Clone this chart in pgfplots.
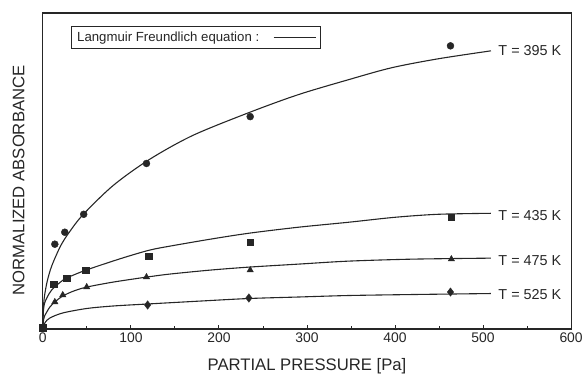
\documentclass[border=0pt]{standalone}
\usepackage{pgfplots}
\pgfplotsset{compat=1.18}
\usepackage{fontspec}
\setmainfont{Liberation Sans}
\definecolor{ink}{gray}{0.15}
\begin{document}
\begin{tikzpicture}
\begin{axis}[
  width=530bp, height=317bp, scale only axis,
  xmin=0, xmax=600, ymin=-1, ymax=316,
  xtick={0,100,...,600}, minor x tick num=1,
  xtick pos=bottom, ytick=\empty,
  tick align=inside,
  major tick length=4bp, minor tick length=2.5bp,
  axis line style={ink, line width=1.2bp},
  every tick/.style={ink, line width=0.9bp},
  /pgf/number format/assume math mode=true,
  xticklabel style={font=\fontsize{14}{16}\selectfont, text=ink},
  xlabel={PARTIAL PRESSURE [Pa]},
  ylabel={NORMALIZED ABSORBANCE},
  xlabel style={font=\fontsize{16.8}{18}\selectfont, text=ink, at={(axis description cs:0.5,-0.1167)}, anchor=center},
  ylabel style={font=\fontsize{16.8}{18}\selectfont, text=ink, at={(axis description cs:-0.046,0.47)}, anchor=center},
  legend plot pos=right,
  legend image code/.code={\draw[#1] (0bp,0bp) -- (42bp,0bp);},
  legend style={at={(axis description cs:0.0528,0.958)}, anchor=north west,
    draw=ink, line width=0.9bp, font=\fontsize{13.3}{15}\selectfont, text=ink,
    inner xsep=4bp, inner ysep=3.5bp,
    /tikz/every odd column/.append style={column sep=12bp}},
]
% fitted curves
\addplot[ink, line width=1.1bp, smooth, tension=0.5] coordinates {
 (0,0) (0.5,19) (1,25) (2,33) (5,47) (10,62) (20,82) (30,96) (46,114) (80,143) (121,169)
 (170,193) (234,216) (290,234) (347,249) (396,261) (449,270) (509,278)};
\addlegendentry{Langmuir Freundlich equation :}
\addplot[ink, line width=1.1bp, smooth, tension=0.5, forget plot] coordinates {
 (0,0) (0.5,15) (1,20) (2,25) (5,31) (10,38) (20,46) (27,50) (49,58) (90,70) (121,78)
 (144,82) (190,89) (234,95) (290,101) (347,106) (400,111) (449,114) (509,115)};
\addplot[ink, line width=1.1bp, smooth, tension=0.5, forget plot] coordinates {
 (0,0) (0.5,6) (1,9) (2,12) (4.5,16) (8,21) (13.6,26) (22.6,32) (35,37) (50,41) (80,46)
 (118,51) (144,54) (190,58) (234,61) (290,64) (347,67) (420,69) (509,70)};
\addplot[ink, line width=1.1bp, smooth, tension=0.5, forget plot] coordinates {
 (0,0) (1,3) (3,6) (8,10) (22.6,15) (50,19.5) (80,22) (119,24) (180,27)
 (234,29.5) (290,31) (347,32.5) (420,33.5) (509,34.5)};
% measured points
\addplot[only marks, mark=*, mark size=3.5bp, ink, forget plot] coordinates {
 (13.6,84) (24.9,96) (46.4,114) (117.7,165) (235.5,212) (463,283)};
\addplot[only marks, mark=square*, mark size=3.3bp, ink, forget plot] coordinates {
 (0,0) (12.5,44) (27.2,50) (48.7,58) (120,72) (235.5,86) (464,111)};
\addplot[only marks, mark=triangle*, mark size=3.7bp, ink, forget plot] coordinates {
 (13.6,26) (22.6,33) (49.8,41) (117.7,51) (235.5,58) (464,69)};
\addplot[only marks, mark=diamond*, mark size=4.2bp, ink, forget plot] coordinates {
 (119,23) (234,30) (463,36)};
% labels
\node[anchor=west, text=ink, font=\fontsize{14.5}{16}\selectfont, xshift=4bp] at (axis cs:509,278) {T = 395 K};
\node[anchor=west, text=ink, font=\fontsize{14.5}{16}\selectfont, xshift=4bp, yshift=-2bp] at (axis cs:509,115) {T = 435 K};
\node[anchor=west, text=ink, font=\fontsize{14.5}{16}\selectfont, xshift=4bp, yshift=-2bp] at (axis cs:509,70) {T = 475 K};
\node[anchor=west, text=ink, font=\fontsize{14.5}{16}\selectfont, xshift=4bp, yshift=-1bp] at (axis cs:509,34.5) {T = 525 K};
\end{axis}
\useasboundingbox ([xshift=-43bp,yshift=-45bp]current axis.south west) rectangle ([xshift=13bp,yshift=13bp]current axis.north east);
\end{tikzpicture}
\end{document}
